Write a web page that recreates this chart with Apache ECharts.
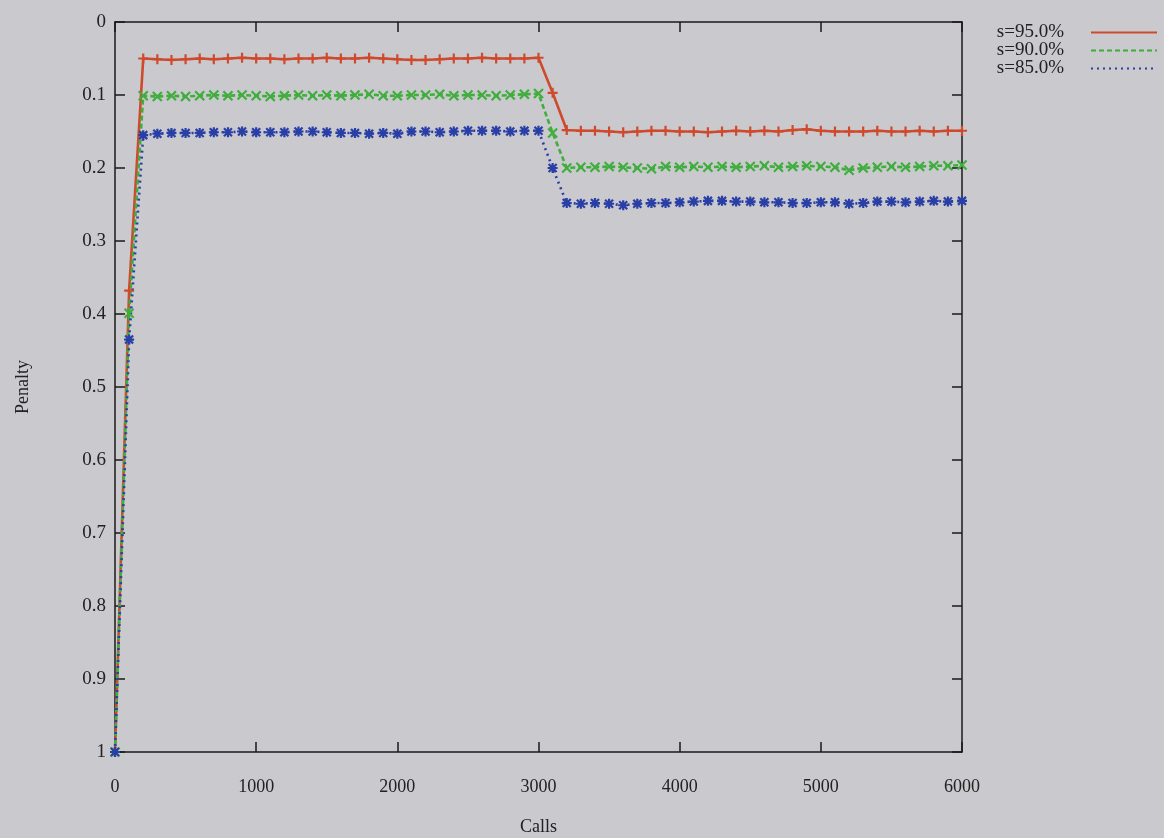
<!DOCTYPE html>
<html>
<head>
<meta charset="utf-8">
<script src="https://cdn.jsdelivr.net/npm/echarts@6/dist/echarts.min.js"></script>
<style>
html,body{margin:0;padding:0;background:#c9c9ce;}
#chart{width:1164px;height:838px;}
</style>
</head>
<body>
<div id="chart"></div>
<script>
var calls = [0,100,200,300,400,500,600,700,800,900,1000,1100,1200,1300,1400,1500,1600,1700,1800,1900,2000,2100,2200,2300,2400,2500,2600,2700,2800,2900,3000,3100,3200,3300,3400,3500,3600,3700,3800,3900,4000,4100,4200,4300,4400,4500,4600,4700,4800,4900,5000,5100,5200,5300,5400,5500,5600,5700,5800,5900,6000];
var s95 = [1.0,0.368,0.050,0.051,0.052,0.051,0.050,0.051,0.050,0.049,0.050,0.050,0.051,0.050,0.050,0.049,0.050,0.050,0.049,0.050,0.051,0.052,0.052,0.051,0.050,0.050,0.049,0.050,0.050,0.050,0.049,0.097,0.148,0.149,0.149,0.150,0.151,0.150,0.149,0.149,0.150,0.150,0.151,0.150,0.149,0.150,0.149,0.150,0.148,0.147,0.149,0.150,0.150,0.150,0.149,0.150,0.150,0.149,0.150,0.149,0.149];
var s90 = [1.0,0.399,0.101,0.102,0.101,0.102,0.101,0.100,0.101,0.100,0.101,0.102,0.101,0.100,0.101,0.100,0.101,0.100,0.099,0.101,0.101,0.100,0.100,0.099,0.101,0.100,0.100,0.101,0.100,0.099,0.098,0.152,0.200,0.199,0.199,0.198,0.199,0.200,0.201,0.198,0.199,0.198,0.199,0.198,0.199,0.198,0.197,0.199,0.198,0.197,0.198,0.199,0.203,0.200,0.199,0.198,0.199,0.198,0.197,0.197,0.196];
var s85 = [1.0,0.435,0.155,0.153,0.152,0.152,0.152,0.151,0.151,0.150,0.151,0.151,0.151,0.150,0.150,0.151,0.152,0.152,0.153,0.152,0.153,0.150,0.150,0.151,0.150,0.149,0.149,0.149,0.150,0.149,0.149,0.200,0.248,0.249,0.248,0.249,0.251,0.249,0.248,0.248,0.247,0.246,0.245,0.245,0.246,0.246,0.247,0.247,0.248,0.248,0.247,0.247,0.249,0.248,0.246,0.246,0.247,0.246,0.245,0.246,0.245];
var seriesNames = ['s=95.0%','s=90.0%','s=85.0%'];

function pairs(vals){ return calls.map(function(c,i){ return [c, vals[i]]; }); }

var FONT = '"Liberation Serif", "DejaVu Serif", serif';
var plusPath = 'path://M0,5 L10,5 M5,0 L5,10';
var crossPath = 'path://M0,0 L10,10 M10,0 L0,10';
var starPath = 'path://M0,5 L10,5 M5,0 L5,10 M1,1 L9,9 M9,1 L1,9';
var colors = ['#cf4a2c','#3fae3c','#2a3fa6'];
var AX = '#1a1a1a';

var chart = echarts.init(document.getElementById('chart'), null, {renderer:'canvas'});
function mkSeries(name, vals, color, type, sym, size){
  return {
    name: name, type: 'line', data: pairs(vals),
    symbol: sym, symbolSize: size, showSymbol: true,
    lineStyle: {color: color, width: 2.6, type: type},
    itemStyle: {color: color, borderColor: color, borderWidth: 2.2},
    emphasis: {disabled: true}, animation: false, z: 3
  };
}
function axLine(){ return {show: true, onZero: false, lineStyle: {color: AX, width: 1.5}}; }
function axTick(){ return {show: true, inside: true, length: 10, lineStyle: {color: AX, width: 1.5}}; }
var option = {
  backgroundColor: '#c9c9ce',
  animation: false,
  grid: {left: 115, right: 202, top: 22, bottom: 86, containLabel: false, outerBoundsMode: 'none'},
  legend: {
    orient: 'vertical', right: 6, top: 23, align: 'right', padding: 0,
    itemWidth: 66, itemHeight: 10, itemGap: -1,
    textStyle: {fontFamily: FONT, fontSize: 19, color: '#222', lineHeight: 18, padding: [0, 22, 0, 0]},
    itemStyle: {opacity: 0},
    data: seriesNames
  },
  xAxis: [{
    type: 'value', min: 0, max: 6000, interval: 1000,
    name: 'Calls', nameLocation: 'middle', nameGap: 66,
    nameTextStyle: {fontFamily: FONT, fontSize: 18, color: '#222'},
    axisLine: axLine(), axisTick: axTick(),
    axisLabel: {fontFamily: FONT, fontSize: 18, color: '#222', margin: 26,
      formatter: function(v){ return String(v); }},
    splitLine: {show: false}
  },{
    type: 'value', position: 'top', min: 0, max: 6000, interval: 1000,
    axisLine: axLine(), axisTick: axTick(),
    axisLabel: {show: false}, splitLine: {show: false}
  }],
  yAxis: [{
    type: 'value', inverse: true, min: 0, max: 1, interval: 0.1,
    name: 'Penalty', nameLocation: 'middle', nameGap: 83, nameRotate: 90,
    nameTextStyle: {fontFamily: FONT, fontSize: 18, color: '#222'},
    axisLine: axLine(), axisTick: axTick(),
    axisLabel: {fontFamily: FONT, fontSize: 19, color: '#222', margin: 9,
      formatter: function(v){ return String(Math.round(v*10)/10); }},
    splitLine: {show: false}
  },{
    type: 'value', position: 'right', inverse: true, min: 0, max: 1, interval: 0.1,
    axisLine: axLine(), axisTick: axTick(),
    axisLabel: {show: false}, splitLine: {show: false}
  }],
  series: [
    mkSeries(seriesNames[0], s95, colors[0], 'solid', plusPath, 10),
    mkSeries(seriesNames[1], s90, colors[1], [5,3], crossPath, 9),
    mkSeries(seriesNames[2], s85, colors[2], [2,4], starPath, 10)
  ]
};
chart.setOption(option);
</script>
</body>
</html>
